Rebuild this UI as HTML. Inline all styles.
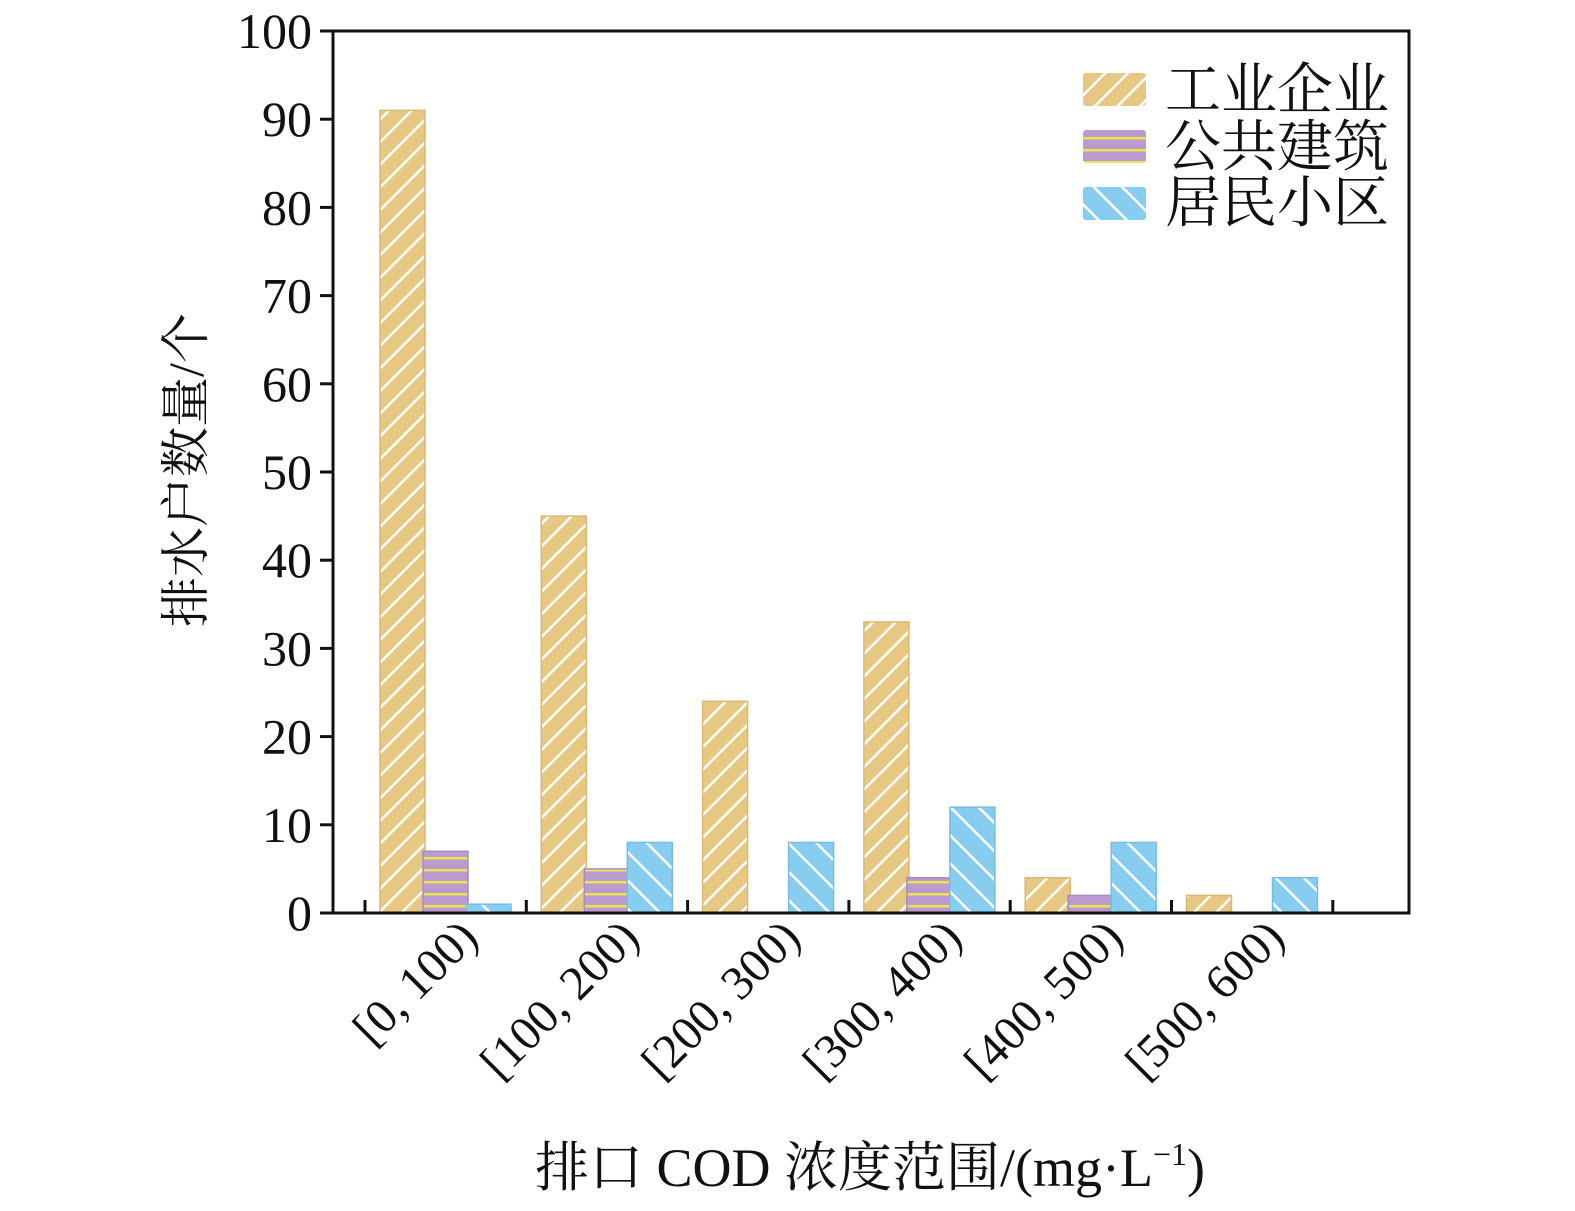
<!DOCTYPE html>
<html><head><meta charset="utf-8"><style>body{margin:0;background:#fff}</style></head><body>
<svg width="1575" height="1206" xmlns="http://www.w3.org/2000/svg">
<defs>
<pattern id="py" patternUnits="userSpaceOnUse" width="16" height="16" patternTransform="rotate(45)">
<rect width="16" height="16" fill="#e6c883"/><rect x="0" y="0" width="2.5" height="16" fill="#fff"/></pattern>
<pattern id="pp" patternUnits="userSpaceOnUse" width="12" height="12">
<rect width="12" height="12" fill="#b99bd1"/><rect x="0" y="5" width="12" height="2.5" fill="#ece54a"/></pattern>
<pattern id="pb" patternUnits="userSpaceOnUse" width="20" height="20" patternTransform="rotate(-45)">
<rect width="20" height="20" fill="#87cdef"/><rect x="0" y="0" width="2.5" height="20" fill="#fff"/></pattern>
</defs>
<g id="bars"></g>
<rect x="333" y="31" width="1076" height="882" fill="none" stroke="#111" stroke-width="3"/>
<g font-family="Liberation Serif, serif" font-size="50" fill="#111" text-anchor="end" id="yl"></g>
<g id="xl" font-family="Liberation Serif, serif" font-size="48" fill="#111"></g>
<g font-family="Liberation Serif, 'Noto Serif CJK SC', serif" font-size="56" fill="#111">
<rect x="1083" y="73" width="63" height="33" rx="3" fill="url(#py)"/>
<rect x="1083" y="130" width="63" height="33" rx="3" fill="url(#pp)"/>
<rect x="1083" y="187" width="63" height="33" rx="3" fill="url(#pb)"/>
<text x="1165" y="109">工业企业</text>
<text x="1165" y="166">公共建筑</text>
<text x="1165" y="222">居民小区</text>
<text transform="translate(203,470) rotate(-90)" text-anchor="middle" font-size="50">排水户数量/个</text>
<text x="870" y="1186" text-anchor="middle" font-size="54">排口 COD 浓度范围/(mg·L<tspan font-size="32" dy="-21">−1</tspan><tspan dy="21">)</tspan></text>
</g>
</svg>
<script>
const ns="http://www.w3.org/2000/svg";
function el(p,t,a,txt){const e=document.createElementNS(ns,t);for(const k in a)e.setAttribute(k,a[k]);if(txt)e.textContent=txt;document.getElementById(p).appendChild(e);}
const Y=v=>913-v*8.82;
const d=[[91,7,1],[45,5,8],[24,0,8],[33,4,12],[4,2,8],[2,0,4]];
const f=["url(#py)","url(#pp)","url(#pb)"],s=["#d9b870","#a88cc0","#78bde0"];
d.forEach((g,i)=>{g.forEach((v,j)=>{if(!v)return;const x=380+161.3*i+43*j;el("bars","rect",{x:x,y:Y(v),width:45,height:v*8.82,fill:f[j],stroke:s[j],"stroke-width":1.5});});});
for(let i=0;i<=6;i++){const x=365+161.3*i;el("bars","line",{x1:x,x2:x,y1:913,y2:900,stroke:"#111","stroke-width":3});}
for(let v=0;v<=100;v+=10){el("yl","text",{x:312,y:Y(v)+17},String(v));el("bars","line",{x1:320,x2:333,y1:Y(v),y2:Y(v),stroke:"#111","stroke-width":3});}
const L=["[0, 100)","[100, 200)","[200, 300)","[300, 400)","[400, 500)","[500, 600)"];
L.forEach((t,i)=>{const x=480+161.3*i;el("xl","text",{transform:`translate(${x},940) rotate(-45)`,"text-anchor":"end"},t);});
</script>
</body></html>
